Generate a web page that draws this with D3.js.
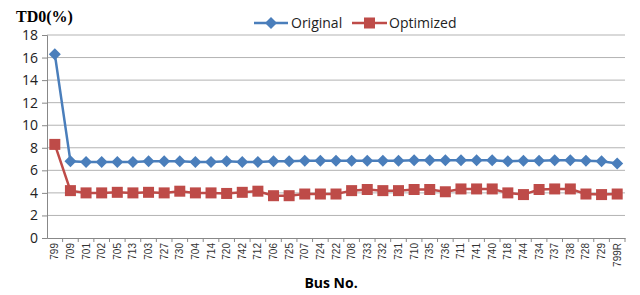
<!DOCTYPE html>
<html>
<head>
<meta charset="utf-8">
<script src="https://cdn.jsdelivr.net/npm/d3@7"></script>
<style>
  body { margin: 0; background: #fff; }
  text { font-family: "Open Sans", "Liberation Sans", sans-serif; }
</style>
</head>
<body>
<script>
var buses = ["799", "709", "701", "702", "705", "713", "703", "727", "730", "704", "714", "720",
  "742", "712", "706", "725", "707", "724", "722", "708", "733", "732", "731", "710", "735",
  "736", "711", "741", "740", "718", "744", "734", "737", "738", "728", "729", "799R"];
var original = [16.3, 6.8, 6.75, 6.75, 6.75, 6.75, 6.8, 6.8, 6.8, 6.75, 6.75, 6.8,
  6.75, 6.75, 6.8, 6.8, 6.85, 6.85, 6.85, 6.85, 6.85, 6.85, 6.85, 6.9, 6.9,
  6.9, 6.9, 6.9, 6.9, 6.8, 6.85, 6.85, 6.9, 6.9, 6.85, 6.8, 6.6];
var optimized = [8.3, 4.2, 4.0, 4.0, 4.05, 4.0, 4.05, 4.0, 4.15, 4.0, 4.0, 3.95,
  4.05, 4.15, 3.75, 3.75, 3.9, 3.9, 3.9, 4.2, 4.3, 4.2, 4.2, 4.3, 4.3,
  4.1, 4.35, 4.35, 4.35, 4.0, 3.85, 4.3, 4.35, 4.35, 3.9, 3.85, 3.9];
var yTicks = [0, 2, 4, 6, 8, 10, 12, 14, 16, 18];

const width = 640, height = 295;
const plotLeft = 47, plotRight = 625, plotTop = 35, plotBottom = 238;

const svg = d3.select("body").append("svg")
  .attr("width", width)
  .attr("height", height);

var x = d3.scaleBand().domain(buses).range([plotLeft, plotRight]);
var y = d3.scaleLinear().domain([0, 18]).range([plotBottom, plotTop]);

// gridlines
svg.append("g")
  .selectAll("line")
  .data(yTicks.slice(1))
  .enter()
  .append("line")
  .attr("x1", plotLeft).attr("x2", plotRight)
  .attr("y1", function(d) { return y(d); })
  .attr("y2", function(d) { return y(d); })
  .attr("stroke", "#b3b3b3")
  .attr("stroke-width", 1);

// y axis
var yAxis = svg.append("g")
  .attr("transform", "translate(" + plotLeft + ",0)")
  .call(d3.axisLeft(y).tickValues(yTicks).tickSize(5).tickPadding(4));
yAxis.select(".domain").attr("stroke", "#888");
yAxis.selectAll(".tick line").attr("stroke", "#888");
yAxis.selectAll("text")
  .style("font-size", "14px")
  .style("font-family", "'Open Sans', 'Liberation Sans', sans-serif")
  .attr("fill", "#222");

// x axis
var xAxis = svg.append("g")
  .attr("transform", "translate(0," + plotBottom + ")")
  .call(d3.axisBottom(x).tickSize(0).tickPadding(0));
xAxis.select(".domain").attr("stroke", "#888");
xAxis.selectAll(".tick line").remove();
xAxis.selectAll(".tick text")
  .attr("transform", "rotate(-90)")
  .attr("x", -5)
  .attr("y", 0)
  .attr("dy", "0.35em")
  .style("text-anchor", "end")
  .style("font-size", "10px")
  .style("font-family", "'Liberation Sans', Arial, sans-serif")
  .attr("fill", "#333");
// ticks at band boundaries
svg.append("g")
  .selectAll("line")
  .data(buses)
  .enter()
  .append("line")
  .attr("x1", function(d) { return x(d) + x.bandwidth(); })
  .attr("x2", function(d) { return x(d) + x.bandwidth(); })
  .attr("y1", plotBottom)
  .attr("y2", plotBottom + 4)
  .attr("stroke", "#888");

var cx = function(d, i) { return x(buses[i]) + x.bandwidth() / 2; };

var line = d3.line()
  .x(function(d, i) { return cx(d, i); })
  .y(function(d) { return y(d); });

var blue = "#4a7ebb", red = "#be4b48";

svg.append("path")
  .datum(original)
  .attr("d", line)
  .attr("fill", "none")
  .attr("stroke", blue)
  .attr("stroke-width", 2.5);

svg.append("path")
  .datum(optimized)
  .attr("d", line)
  .attr("fill", "none")
  .attr("stroke", red)
  .attr("stroke-width", 2.5);

var diamond = "M0,-6L6,0L0,6L-6,0Z";

svg.append("g")
  .selectAll("path")
  .data(original)
  .enter()
  .append("path")
  .attr("d", diamond)
  .attr("transform", function(d, i) { return "translate(" + cx(d, i) + "," + y(d) + ")"; })
  .attr("fill", blue);

svg.append("g")
  .selectAll("rect")
  .data(optimized)
  .enter()
  .append("rect")
  .attr("x", function(d, i) { return cx(d, i) - 5.5; })
  .attr("y", function(d) { return y(d) - 5.5; })
  .attr("width", 11)
  .attr("height", 11)
  .attr("fill", red);

// title and axis label
svg.append("text")
  .attr("x", 16).attr("y", 22)
  .text("TD0(%)")
  .style("font-family", "'Liberation Serif', 'Times New Roman', serif")
  .style("font-weight", "bold")
  .style("font-size", "16px");

svg.append("text")
  .attr("x", 331).attr("y", 288)
  .attr("text-anchor", "middle")
  .text("Bus No.")
  .style("font-weight", "bold")
  .style("font-size", "14px");

// legend
var legend = svg.append("g");
legend.append("line").attr("x1", 254).attr("x2", 288).attr("y1", 23).attr("y2", 23)
  .attr("stroke", blue).attr("stroke-width", 2.5);
legend.append("path").attr("d", diamond).attr("transform", "translate(271,23)").attr("fill", blue);
legend.append("text").attr("x", 291).attr("y", 28).text("Original").style("font-size", "14px").attr("fill", "#222");
legend.append("line").attr("x1", 352).attr("x2", 387).attr("y1", 23).attr("y2", 23)
  .attr("stroke", red).attr("stroke-width", 2.5);
legend.append("rect").attr("x", 364).attr("y", 17.5).attr("width", 11).attr("height", 11).attr("fill", red);
legend.append("text").attr("x", 389).attr("y", 28).text("Optimized").style("font-size", "14px").attr("fill", "#222");
</script>
</body>
</html>
